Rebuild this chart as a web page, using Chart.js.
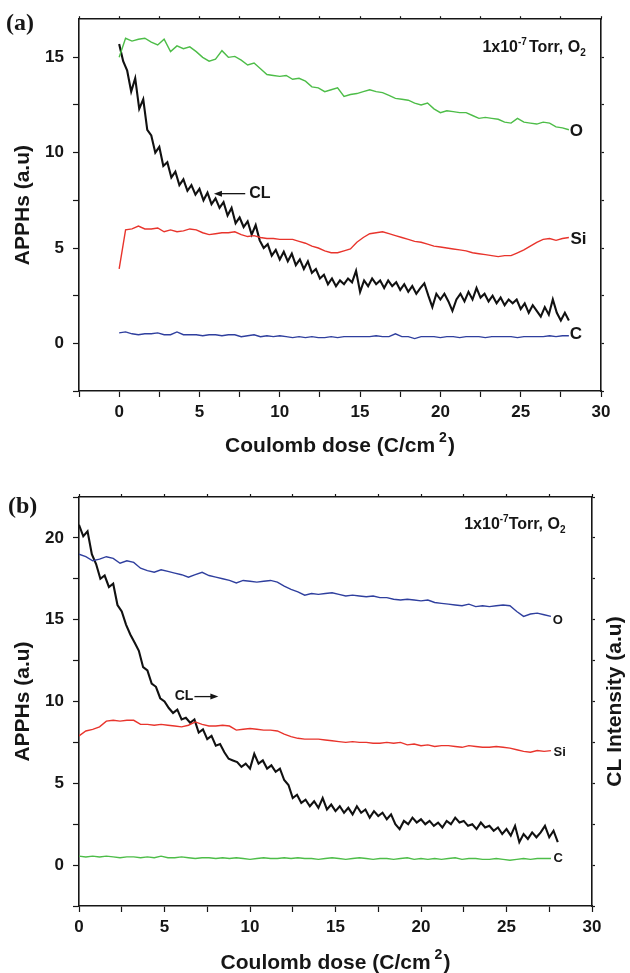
<!DOCTYPE html>
<html>
<head>
<meta charset="utf-8">
<script src="https://cdn.jsdelivr.net/npm/chart.js@4.4.0/dist/chart.umd.min.js"></script>
<style>
  body { margin: 0; background: #fff; }
  canvas { display: block; }
</style>
</head>
<body>
<canvas id="chartA" width="630" height="470"></canvas>
<canvas id="chartB" width="630" height="503"></canvas>
<script>
// dose grid (C/cm2) for the element (Auger) curves
const doseEl = [0, 0.4, 0.8, 1.2, 1.6, 2, 2.4, 2.8, 3.2, 3.6, 4, 4.4, 4.8, 5.2, 5.6, 6, 6.4, 6.8, 7.2, 7.6,
  8, 8.4, 8.8, 9.2, 9.6, 10, 10.4, 10.8, 11.2, 11.6, 12, 12.4, 12.8, 13.2, 13.6, 14, 14.4, 14.8, 15.2, 15.6,
  16, 16.4, 16.8, 17.2, 17.6, 18, 18.4, 18.8, 19.2, 19.6, 20, 20.4, 20.8, 21.2, 21.6, 22, 22.4, 22.8, 23.2, 23.6,
  24, 24.4, 24.8, 25.2, 25.6, 26, 26.4, 26.8, 27.2, 27.6, 28];

// finer dose grid for the CL trace
const doseCL = [0, 0.25, 0.5, 0.75, 1, 1.25, 1.5, 1.75, 2, 2.25, 2.5, 2.75, 3, 3.25, 3.5, 3.75, 4, 4.25, 4.5, 4.75,
  5, 5.25, 5.5, 5.75, 6, 6.25, 6.5, 6.75, 7, 7.25, 7.5, 7.75, 8, 8.25, 8.5, 8.75, 9, 9.25, 9.5, 9.75,
  10, 10.25, 10.5, 10.75, 11, 11.25, 11.5, 11.75, 12, 12.25, 12.5, 12.75, 13, 13.25, 13.5, 13.75, 14, 14.25, 14.5, 14.75,
  15, 15.25, 15.5, 15.75, 16, 16.25, 16.5, 16.75, 17, 17.25, 17.5, 17.75, 18, 18.25, 18.5, 18.75, 19, 19.25, 19.5, 19.75,
  20, 20.25, 20.5, 20.75, 21, 21.25, 21.5, 21.75, 22, 22.25, 22.5, 22.75, 23, 23.25, 23.5, 23.75, 24, 24.25, 24.5, 24.75,
  25, 25.25, 25.5, 25.75, 26, 26.25, 26.5, 26.75, 27, 27.25, 27.5, 27.75, 28];

// panel (a)
const oA = [15.0, 16.0, 15.85, 15.95, 16.0, 15.8, 15.65, 15.95, 15.3, 15.6,
  15.45, 15.55, 15.3, 15.0, 14.8, 14.9, 15.35, 15.0, 15.05, 14.85,
  14.6, 14.7, 14.4, 14.1, 14.05, 14.0, 14.05, 13.85, 13.9, 13.75,
  13.45, 13.4, 13.2, 13.3, 13.4, 12.95, 13.05, 13.1, 13.2, 13.3,
  13.2, 13.15, 13.0, 12.85, 12.8, 12.75, 12.6, 12.5, 12.6, 12.3,
  12.1, 12.2, 12.15, 12.1, 12.1, 11.95, 11.8, 11.85, 11.8, 11.75,
  11.6, 11.55, 11.8, 11.6, 11.55, 11.5, 11.6, 11.55, 11.35, 11.3,
  11.2];
const siA = [3.9, 5.95, 6.0, 6.15, 6.0, 6.0, 6.05, 5.85, 5.95, 5.85,
  5.9, 6.0, 5.95, 5.8, 5.7, 5.75, 5.8, 5.8, 5.85, 5.7,
  5.6, 5.65, 5.55, 5.5, 5.5, 5.45, 5.45, 5.45, 5.35, 5.25,
  5.1, 5.0, 4.85, 4.75, 4.75, 4.85, 4.95, 5.3, 5.55, 5.75,
  5.8, 5.85, 5.75, 5.65, 5.55, 5.45, 5.35, 5.3, 5.2, 5.1,
  5.05, 5.0, 4.95, 4.9, 4.85, 4.75, 4.7, 4.65, 4.6, 4.55,
  4.6, 4.6, 4.75, 4.9, 5.1, 5.3, 5.45, 5.5, 5.4, 5.5,
  5.55];
const cA = [0.55, 0.6, 0.5, 0.45, 0.5, 0.5, 0.55, 0.45, 0.45, 0.6,
  0.45, 0.45, 0.45, 0.4, 0.45, 0.45, 0.4, 0.45, 0.45, 0.35,
  0.4, 0.45, 0.35, 0.4, 0.35, 0.4, 0.35, 0.3, 0.35, 0.3,
  0.35, 0.3, 0.3, 0.35, 0.3, 0.35, 0.35, 0.35, 0.35, 0.35,
  0.4, 0.35, 0.35, 0.5, 0.35, 0.35, 0.25, 0.35, 0.35, 0.35,
  0.3, 0.35, 0.35, 0.3, 0.35, 0.35, 0.35, 0.3, 0.35, 0.35,
  0.35, 0.35, 0.3, 0.35, 0.35, 0.35, 0.35, 0.4, 0.35, 0.4,
  0.4];
const clA = [15.7, 14.8, 14.3, 13.2, 13.9, 12.3, 12.8, 11.2, 10.9, 10.0,
  10.3, 9.3, 9.5, 8.7, 9.0, 8.3, 8.6, 8.0, 8.3, 7.8,
  8.1, 7.5, 7.9, 7.3, 7.6, 7.1, 7.4, 6.7, 7.1, 6.3,
  6.6, 6.1, 6.4, 5.7, 6.2, 5.4, 5.0, 5.2, 4.6, 4.9,
  4.4, 4.8, 4.3, 4.7, 4.1, 4.4, 3.9, 4.3, 3.7, 3.9,
  3.4, 3.6, 3.1, 3.4, 3.0, 3.3, 3.1, 3.4, 3.2, 3.8,
  2.7, 3.3, 3.0, 3.4, 3.1, 3.3, 2.9, 3.3, 3.0, 3.2,
  2.8, 3.1, 2.7, 3.0, 2.6, 2.9, 3.15, 2.5, 1.9, 2.6,
  2.3, 2.6, 2.2, 1.7, 2.3, 2.6, 2.2, 2.7, 2.3, 2.9,
  2.4, 2.6, 2.2, 2.5, 2.1, 2.4, 2.0, 2.3, 2.1, 2.3,
  1.8, 2.1, 1.6, 2.0, 1.7, 1.4, 1.9, 1.5, 2.3, 1.6,
  1.2, 1.6, 1.2];

// panel (b)
const oB = [19.0, 18.85, 18.6, 18.7, 18.85, 18.75, 18.45, 18.6, 18.5, 18.15,
  18.0, 17.9, 18.05, 17.95, 17.85, 17.75, 17.6, 17.75, 17.9, 17.7,
  17.6, 17.5, 17.4, 17.25, 17.4, 17.35, 17.3, 17.35, 17.4, 17.3,
  17.05, 16.85, 16.7, 16.5, 16.6, 16.55, 16.6, 16.65, 16.55, 16.45,
  16.5, 16.45, 16.4, 16.45, 16.35, 16.35, 16.25, 16.2, 16.25, 16.2,
  16.15, 16.2, 16.05, 16.0, 15.95, 15.9, 15.85, 15.95, 15.8, 15.85,
  15.8, 15.85, 15.9, 15.85, 15.5, 15.2, 15.35, 15.4, 15.3, 15.2,
  null];
const siB = [7.9, 8.2, 8.3, 8.45, 8.8, 8.85, 8.8, 8.85, 8.85, 8.6,
  8.6, 8.55, 8.6, 8.55, 8.5, 8.45, 8.55, 8.75, 8.6, 8.5,
  8.5, 8.55, 8.5, 8.25, 8.3, 8.35, 8.3, 8.25, 8.25, 8.2,
  8.0, 7.85, 7.75, 7.7, 7.7, 7.7, 7.65, 7.6, 7.55, 7.5,
  7.55, 7.5, 7.5, 7.45, 7.45, 7.5, 7.45, 7.5, 7.35, 7.4,
  7.3, 7.35, 7.25, 7.3, 7.3, 7.25, 7.2, 7.3, 7.25, 7.2,
  7.2, 7.25, 7.2, 7.15, 7.05, 6.95, 6.9, 7.0, 6.95, 7.0,
  null];
const cB = [0.55, 0.5, 0.55, 0.5, 0.55, 0.5, 0.45, 0.5, 0.5, 0.45,
  0.5, 0.45, 0.55, 0.45, 0.45, 0.5, 0.45, 0.4, 0.45, 0.45,
  0.4, 0.45, 0.4, 0.45, 0.4, 0.35, 0.4, 0.45, 0.4, 0.4,
  0.45, 0.4, 0.45, 0.4, 0.4, 0.35, 0.4, 0.45, 0.4, 0.35,
  0.4, 0.45, 0.4, 0.35, 0.4, 0.4, 0.35, 0.4, 0.45, 0.35,
  0.4, 0.35, 0.4, 0.35, 0.4, 0.45, 0.35, 0.4, 0.4, 0.35,
  0.35, 0.4, 0.35, 0.3, 0.35, 0.4, 0.35, 0.4, 0.4, 0.4,
  null];
const clB = [20.8, 20.1, 20.4, 19.0, 18.4, 17.5, 17.7, 17.0, 17.2, 15.9,
  15.5, 14.7, 14.1, 13.6, 13.1, 12.1, 11.9, 11.1, 10.9, 10.2,
  10.0, 9.6, 9.3, 9.5, 8.9, 9.0, 8.7, 8.9, 8.1, 8.3,
  7.7, 7.9, 7.3, 7.4, 6.9, 6.5, 6.4, 6.3, 6.0, 6.2,
  5.9, 6.8, 6.2, 6.4, 5.9, 6.1, 5.7, 5.9, 5.2, 4.9,
  4.1, 4.3, 3.8, 4.0, 3.6, 3.9, 3.5, 4.1, 3.4, 3.7,
  3.3, 3.6, 3.2, 3.5, 3.1, 3.6, 3.2, 3.4, 2.9, 3.3,
  3.0, 3.2, 2.8, 3.1, 2.5, 2.2, 2.7, 2.5, 2.9, 2.6,
  2.8, 2.5, 2.7, 2.4, 2.6, 2.3, 2.7, 2.5, 2.9, 2.6,
  2.7, 2.4, 2.5, 2.2, 2.6, 2.3, 2.4, 2.1, 2.3, 1.9,
  2.2, 1.8, 2.4, 1.4, 1.9, 1.6, 2.0, 1.7, 2.0, 2.4,
  1.7, 2.1, 1.4];

// labelled ticks
const xTickLabels = [0, 5, 10, 15, 20, 25, 30];
const yTickLabelsA = [0, 5, 10, 15];
const yTickLabelsB = [0, 5, 10, 15, 20];

const FONT = '"Liberation Sans", Arial, Helvetica, sans-serif';
const INK = '#161616';
const GREEN = '#4dbd48', RED = '#e8342c', BLUE = '#2f3f9e';

Chart.defaults.font.family = FONT;
Chart.defaults.color = INK;

function pts(xs, ys) {
  return xs.map((x, i) => ({ x: x, y: ys[i] }));
}

function line(label, xs, ys, color, width, axis) {
  return {
    label: label, data: pts(xs, ys), borderColor: color, backgroundColor: color,
    borderWidth: width, pointRadius: 0, tension: 0, yAxisID: axis || 'y'
  };
}

function drawParts(ctx, parts, x, y, align) {
  let w = 0;
  parts.forEach(p => {
    ctx.font = 'bold ' + p.size + 'px ' + FONT;
    p.w = ctx.measureText(p.t).width;
    w += p.w + (p.gap || 0);
  });
  let cx = align === 'right' ? x - w : align === 'center' ? x - w / 2 : x;
  parts.forEach(p => {
    cx += p.gap || 0;
    ctx.font = 'bold ' + p.size + 'px ' + FONT;
    ctx.fillText(p.t, cx, y + (p.dy || 0));
    cx += p.w;
  });
}

// labels, arrows, condition note, x title, panel tag
const decor = {
  id: 'decor',
  afterDraw(chart, args, o) {
    const ctx = chart.ctx;
    const sx = chart.scales.x, sy = chart.scales.y;
    const ca = chart.chartArea;
    ctx.save();
    ctx.fillStyle = INK;
    ctx.strokeStyle = INK;
    ctx.textBaseline = 'middle';
    ctx.textAlign = 'left';
    o.labels.forEach(l => {
      ctx.font = 'bold ' + l.size + 'px ' + FONT;
      ctx.fillText(l.text, sx.getPixelForValue(l.x), sy.getPixelForValue(l.y));
    });
    // arrow
    const a = o.arrow;
    const ax1 = sx.getPixelForValue(a.from), ax2 = sx.getPixelForValue(a.to), ay = sy.getPixelForValue(a.y);
    const dir = ax2 > ax1 ? 1 : -1;
    ctx.lineWidth = 1.3;
    ctx.beginPath();
    ctx.moveTo(ax1, ay);
    ctx.lineTo(ax2 - dir * 6, ay);
    ctx.stroke();
    ctx.beginPath();
    ctx.moveTo(ax2, ay);
    ctx.lineTo(ax2 - dir * 8, ay - 3);
    ctx.lineTo(ax2 - dir * 8, ay + 3);
    ctx.closePath();
    ctx.fill();
    // condition note
    ctx.textBaseline = 'alphabetic';
    drawParts(ctx, [
      { t: '1x10', size: 16 },
      { t: '-7', size: 10, dy: -7 },
      { t: 'Torr, O', size: 16, gap: o.noteGap },
      { t: '2', size: 10, dy: 4 }
    ], sx.getPixelForValue(o.note.x), sy.getPixelForValue(o.note.y), 'right');
    // x axis title
    drawParts(ctx, [
      { t: 'Coulomb dose (C/cm', size: 21 },
      { t: '2', size: 14, dy: -10, gap: 4 },
      { t: ')', size: 21, gap: 1 }
    ], (ca.left + ca.right) / 2, o.xTitleY, 'center');
    // panel tag
    ctx.font = 'bold 24px "Liberation Serif", "Times New Roman", serif';
    ctx.fillText(o.tag, o.tagX, o.tagY);
    // right axis title
    if (o.rightTitle) {
      ctx.save();
      ctx.translate(o.rightTitleX, (ca.top + ca.bottom) / 2);
      ctx.rotate(-Math.PI / 2);
      ctx.textAlign = 'center';
      ctx.textBaseline = 'middle';
      ctx.font = 'bold 21px ' + FONT;
      ctx.fillText(o.rightTitle, 0, 0);
      ctx.restore();
    }
    ctx.restore();
  }
};

function axisX(min, position, size, showLabels) {
  return {
    type: 'linear', position: position, min: min, max: 30,
    ticks: {
      display: showLabels, stepSize: 2.5, autoSkip: false, maxRotation: 0, padding: 5,
      font: { size: 17, weight: 'bold' }, color: INK,
      callback: v => xTickLabels.includes(v) ? String(v) : ''
    },
    grid: { drawOnChartArea: false, drawTicks: true, tickLength: showLabels ? 6 : 3, tickColor: INK, tickWidth: 1.2 },
    border: { display: true, color: INK, width: 1.6 },
    afterFit: s => { s.height = size; }
  };
}

function axisY(min, max, labels, position, size, showLabels, title) {
  return {
    type: 'linear', position: position, min: min, max: max,
    ticks: {
      display: showLabels, stepSize: 2.5, autoSkip: false, includeBounds: false, padding: 9,
      font: { size: 17, weight: 'bold' }, color: INK,
      callback: v => labels.includes(v) ? String(v) : ''
    },
    grid: { drawOnChartArea: false, drawTicks: true, tickLength: showLabels ? 6 : 3, tickColor: INK, tickWidth: 1.2 },
    border: { display: true, color: INK, width: 1.6 },
    title: title ? { display: true, text: title, font: { size: 21, weight: 'bold' }, color: INK, padding: { top: 11, bottom: 0 } } : { display: false },
    afterFit: s => { s.width = size; }
  };
}

const common = {
  responsive: false,
  animation: false,
  devicePixelRatio: 1,
  layout: { padding: 0 },
  plugins: { legend: { display: false }, tooltip: { enabled: false } }
};

new Chart(document.getElementById('chartA'), {
  type: 'line',
  data: {
    datasets: [
      line('O', doseEl, oA, GREEN, 1.4),
      line('Si', doseEl, siA, RED, 1.4),
      line('C', doseEl, cA, BLUE, 1.4),
      line('CL', doseCL, clA, '#111', 2.1)
    ]
  },
  options: Object.assign({}, common, {
    scales: {
      x: axisX(-2.5, 'bottom', 79, true),
      x2: axisX(-2.5, 'top', 13, false),
      y: axisY(-2.5, 17, yTickLabelsA, 'left', 79, true, 'APPHs (a.u)'),
      y2: axisY(-2.5, 17, yTickLabelsA, 'right', 29, false, null)
    },
    plugins: Object.assign({}, common.plugins, {
      decor: {
        labels: [
          { text: 'O', x: 28.05, y: 11.1, size: 17 },
          { text: 'Si', x: 28.1, y: 5.45, size: 17 },
          { text: 'C', x: 28.05, y: 0.45, size: 17 },
          { text: 'CL', x: 8.1, y: 7.85, size: 16 }
        ],
        arrow: { from: 7.85, to: 5.9, y: 7.85 },
        note: { x: 29.05, y: 15.3 },
        noteGap: 2,
        xTitleY: 452,
        tag: '(a)', tagX: 6, tagY: 30
      }
    })
  }),
  plugins: [decor]
});

new Chart(document.getElementById('chartB'), {
  type: 'line',
  data: {
    datasets: [
      line('O', doseEl, oB, BLUE, 1.4),
      line('Si', doseEl, siB, RED, 1.4),
      line('C', doseEl, cB, GREEN, 1.4),
      line('CL', doseCL, clB, '#111', 2.1, 'y2')
    ]
  },
  options: Object.assign({}, common, {
    scales: {
      x: axisX(0, 'bottom', 67, true),
      x2: axisX(0, 'top', 27, false),
      y: axisY(-2.5, 22.5, yTickLabelsB, 'left', 79, true, 'APPHs (a.u)'),
      y2: axisY(-2.5, 22.5, yTickLabelsB, 'right', 38, false, null)
    },
    plugins: Object.assign({}, common.plugins, {
      decor: {
        labels: [
          { text: 'O', x: 27.7, y: 14.95, size: 13 },
          { text: 'Si', x: 27.75, y: 6.9, size: 13 },
          { text: 'C', x: 27.75, y: 0.4, size: 13 },
          { text: 'CL', x: 5.6, y: 10.3, size: 14 }
        ],
        arrow: { from: 6.75, to: 8.15, y: 10.3 },
        note: { x: 28.45, y: 20.55 },
        noteGap: 0,
        xTitleY: 499,
        tag: '(b)', tagX: 8, tagY: 43,
        rightTitle: 'CL Intensity (a.u)', rightTitleX: 615
      }
    })
  }),
  plugins: [decor]
});
</script>
</body>
</html>
